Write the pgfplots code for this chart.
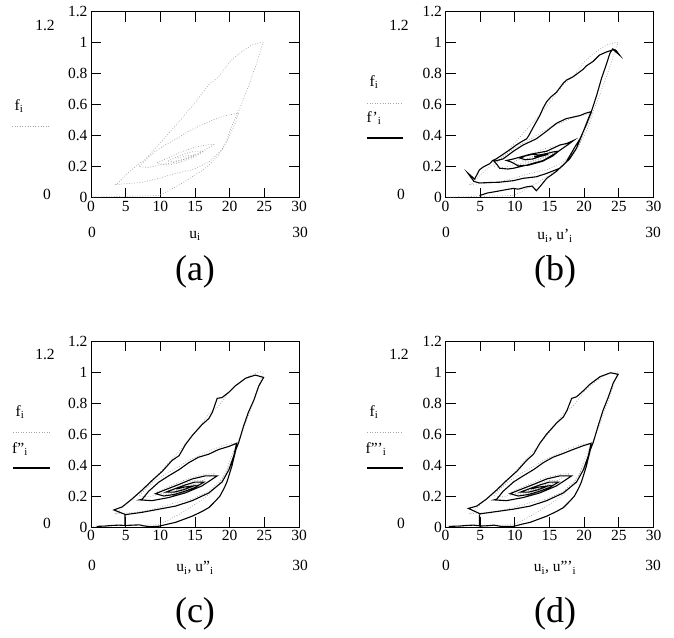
\documentclass[border=0pt]{standalone}
\usepackage{fontspec}
\setmainfont{Liberation Serif}
\usepackage{pgfplots}
\usepackage{pgfplotstable}
\pgfplotsset{compat=1.18}

% measured response f_i (dotted, same in all panels)
\pgfplotstableread{
u f
0.3 0.004
2 0.006
4 0.008
6 0.01
8 0.012
9.8 0.015
11 0.04
12.2 0.07
13.4 0.10
14.6 0.135
16 0.175
17 0.21
18.4 0.275
19.4 0.35
20.1 0.44
20.8 0.51
21.5 0.58
22.3 0.67
23.2 0.78
23.9 0.87
24.6 0.97
24.9 1.0
24.4 1.0
23.2 0.985
22 0.95
20.8 0.91
19.9 0.87
18.4 0.78
17 0.73
16 0.67
14.6 0.59
13.9 0.555
12.9 0.50
11.7 0.44
10.5 0.38
9.3 0.32
7.9 0.25
6.4 0.20
5 0.146
3.8 0.09
3.4 0.085
5 0.09
7.4 0.10
9.8 0.125
12.2 0.157
14.6 0.18
17 0.23
18.9 0.31
19.9 0.39
20.8 0.48
21.3 0.545
19.4 0.53
17.5 0.50
15.5 0.46
14.1 0.43
12.7 0.39
10.7 0.34
9.3 0.30
7.9 0.245
6.9 0.20
8.3 0.195
9.8 0.21
12.2 0.23
14.6 0.265
16.5 0.31
17.9 0.345
16.5 0.34
14.6 0.32
12.7 0.29
10.8 0.25
9.5 0.225
10.8 0.21
12.2 0.22
13.6 0.24
15 0.265
16.3 0.30
15 0.30
13.6 0.285
12.2 0.26
11 0.235
12.2 0.235
13.5 0.25
14.8 0.275
13.6 0.268
12.4 0.255
}\measured

% model (b)
\pgfplotstableread{
u f
4.9 0.013
6 0.03
7.3 0.04
8.5 0.05
9.8 0.06
10.5 0.055
11.7 0.07
12.5 0.075
13.1 0.045
13.6 0.07
14.6 0.125
16 0.17
17.4 0.23
18.7 0.33
19.4 0.38
20.3 0.47
21 0.55
21.8 0.66
22.5 0.77
23.2 0.86
23.7 0.93
24.1 0.96
24.6 0.95
25.1 0.92
24.2 0.955
23.2 0.94
22.2 0.92
21.3 0.88
20.3 0.85
19.9 0.83
19 0.80
18.4 0.78
17.5 0.76
17 0.74
16 0.68
15.2 0.65
14.6 0.62
14.1 0.58
13.6 0.53
13.1 0.49
12.6 0.45
12 0.40
11.7 0.38
10.9 0.36
10.2 0.34
9.3 0.31
8.3 0.28
7.3 0.25
6.8 0.24
6.4 0.22
5.5 0.20
4.9 0.18
4.2 0.12
3.2 0.16
4.1 0.105
4.9 0.095
6.4 0.098
7.8 0.10
9.8 0.11
11.2 0.125
13.1 0.135
14.6 0.157
16.5 0.19
17.9 0.25
18.9 0.32
19.9 0.43
21 0.555
20.2 0.545
19.4 0.53
18.4 0.52
17.4 0.51
16 0.48
14.6 0.43
13.1 0.38
11.2 0.34
9.8 0.30
8.3 0.25
7.0 0.235
7.5 0.21
7.8 0.19
9.0 0.185
9.8 0.19
11.7 0.21
14.1 0.24
16 0.29
17.9 0.35
18.5 0.37
17.5 0.35
16.5 0.34
14.6 0.30
12.2 0.28
9.8 0.25
8.8 0.24
9.5 0.23
10.5 0.205
12 0.21
14 0.235
15.5 0.27
16.3 0.30
15.5 0.295
14.6 0.285
13.5 0.275
12.6 0.28
11.5 0.27
10.8 0.255
11.5 0.245
12.6 0.25
13.6 0.265
14.8 0.28
13.8 0.27
12.8 0.265
}\modelb

% model (c)
\pgfplotstableread{
u f
0.8 0.004
2 0.006
3 0.01
4 0.012
4.9 0.01
4.9 0.08
4.9 0.01
6 0.012
7 0.014
7.5 0.008
8.5 0.002
9.8 0.005
11 0.018
12.2 0.03
13.4 0.05
14.6 0.07
16 0.10
17 0.125
18 0.17
18.6 0.20
19.2 0.25
19.6 0.29
20.3 0.39
20.9 0.50
21.3 0.545
22 0.65
22.7 0.74
23.5 0.82
24.2 0.91
24.9 0.965
23.7 0.98
22.3 0.96
20.8 0.91
19.9 0.87
18.9 0.835
18.2 0.83
17.5 0.74
17 0.70
16 0.66
14.6 0.59
13.6 0.53
12.7 0.46
11.7 0.43
10.3 0.36
8.8 0.30
7.4 0.24
5.9 0.18
4.5 0.13
3.3 0.11
5 0.08
7.4 0.095
9.8 0.115
12.2 0.135
14.6 0.17
17 0.22
18.9 0.29
19.9 0.37
20.6 0.46
21 0.54
19.9 0.52
18.4 0.50
17 0.47
15.5 0.45
14.1 0.415
12.7 0.37
11.2 0.33
9.8 0.29
8.3 0.23
7.4 0.18
7 0.175
8.8 0.17
11.2 0.19
13.6 0.22
16 0.265
18.2 0.33
16.5 0.33
14.6 0.31
12.7 0.275
10.7 0.24
9.3 0.215
10.5 0.20
12 0.21
13.5 0.23
15 0.255
16.3 0.29
15 0.29
13.5 0.27
12 0.245
10.8 0.225
12 0.225
13.3 0.24
14.8 0.265
13.5 0.258
12.3 0.245
}\modelc

% model (d)
\pgfplotstableread{
u f
0.5 0.004
2 0.006
3 0.01
4 0.012
4.9 0.008
4.9 0.08
4.9 0.006
6 0.008
7 0.012
8 0.004
9.8 0.004
11 0.018
12.2 0.03
13.4 0.05
14.6 0.07
16 0.10
17 0.125
18 0.17
18.6 0.20
19.2 0.25
19.6 0.29
20.3 0.39
20.9 0.50
21.3 0.545
22 0.65
22.7 0.75
23.5 0.84
24.2 0.93
24.9 0.985
23.8 0.995
22.3 0.97
20.8 0.92
19.9 0.88
18.9 0.84
18.2 0.83
17.5 0.75
17 0.71
16 0.67
14.6 0.60
13.6 0.54
12.7 0.47
11.7 0.43
10.3 0.36
8.8 0.30
7.4 0.24
5.9 0.18
4.5 0.135
3.3 0.12
5 0.085
7.4 0.10
9.8 0.115
12.2 0.135
14.6 0.17
17 0.22
18.9 0.29
19.9 0.37
20.6 0.46
21 0.54
19.9 0.525
18.4 0.50
17 0.475
15.5 0.45
14.1 0.415
12.7 0.37
11.2 0.33
9.8 0.29
8.3 0.23
7.4 0.18
7 0.175
8.8 0.17
11.2 0.19
13.6 0.22
16 0.265
18.2 0.33
16.5 0.33
14.6 0.31
12.7 0.275
10.7 0.24
9.3 0.215
10.5 0.20
12 0.21
13.5 0.23
15 0.255
16.3 0.29
15 0.29
13.5 0.27
12 0.245
10.8 0.225
12 0.225
13.3 0.24
14.8 0.265
13.5 0.258
12.3 0.245
}\modeld

\tikzset{
  meas/.style={gray!70, line width=0.7pt, dash pattern=on 0.8pt off 1.8pt},
  model/.style={black, line width=1.1pt},
}
\pgfplotsset{
  panel/.style={
    scale only axis, width=208pt, height=186pt, anchor=north west,
    xmin=0, xmax=30, ymin=0, ymax=1.2,
    xtick={0,5,10,15,20,25,30}, ytick={0,0.2,0.4,0.6,0.8,1,1.2},
    tick align=inside, major tick length=10pt, tick pos=both,
    xticklabel pos=lower, yticklabel pos=left,
    tick style={black, line width=1pt},
    axis line style={line width=1pt},
    ticklabel style={font=\fontsize{15.5}{17}\selectfont},
    /pgf/number format/assume math mode=true,
  },
}
\newcommand{\lblfont}{\fontsize{15.5}{17}\selectfont}
\newcommand{\capfont}{\fontsize{36}{40}\selectfont}

\begin{document}
\begin{tikzpicture}
\useasboundingbox (0pt,0pt) rectangle (674pt,-637pt);

% (a)
\begin{axis}[panel, at={(91pt,-11.7pt)}]
\addplot[meas] table[x=u,y=f] {\measured};
\end{axis}
\node[font=\lblfont] at (45pt,-25pt) {1.2};
\node[font=\lblfont] at (47pt,-194pt) {0};
\node[font=\lblfont] at (19pt,-106pt) {f\textsubscript{i}};
\draw[meas] (12pt,-126pt) -- (50pt,-126pt);
\node[font=\lblfont] at (92pt,-232pt) {0};
\node[font=\lblfont] at (195pt,-236pt) {u\textsubscript{i}};
\node[font=\lblfont] at (300pt,-232pt) {30};
\node[font=\capfont] at (195pt,-272pt) {(a)};

% (b)
\begin{axis}[panel, at={(445.5pt,-11.7pt)}]
\addplot[meas] table[x=u,y=f] {\measured};
\addplot[model] table[x=u,y=f] {\modelb};
\end{axis}
\node[font=\lblfont] at (399pt,-25pt) {1.2};
\node[font=\lblfont] at (401pt,-194pt) {0};
\node[font=\lblfont] at (374pt,-82pt) {f\textsubscript{i}};
\draw[meas] (367pt,-103pt) -- (403pt,-103pt);
\node[font=\lblfont] at (374pt,-118pt) {f'\textsubscript{i}};
\draw[model] (367pt,-138pt) -- (403pt,-138pt);
\node[font=\lblfont] at (446pt,-232pt) {0};
\node[font=\lblfont] at (555pt,-236pt) {u\textsubscript{i}, u'\textsubscript{i}};
\node[font=\lblfont] at (653pt,-232pt) {30};
\node[font=\capfont] at (555pt,-272pt) {(b)};

% (c)
\begin{axis}[panel, at={(91pt,-341pt)}]
\addplot[meas] table[x=u,y=f] {\measured};
\addplot[model] table[x=u,y=f] {\modelc};
\end{axis}
\node[font=\lblfont] at (45pt,-354pt) {1.2};
\node[font=\lblfont] at (47pt,-523pt) {0};
\node[font=\lblfont] at (20pt,-412pt) {f\textsubscript{i}};
\draw[meas] (13pt,-432pt) -- (50pt,-432pt);
\node[font=\lblfont] at (20pt,-449pt) {f''\textsubscript{i}};
\draw[model] (13pt,-468pt) -- (50pt,-468pt);
\node[font=\lblfont] at (92pt,-565pt) {0};
\node[font=\lblfont] at (195pt,-568pt) {u\textsubscript{i}, u''\textsubscript{i}};
\node[font=\lblfont] at (300pt,-565pt) {30};
\node[font=\capfont] at (195pt,-614pt) {(c)};

% (d)
\begin{axis}[panel, at={(445.5pt,-341pt)}]
\addplot[meas] table[x=u,y=f] {\measured};
\addplot[model] table[x=u,y=f] {\modeld};
\end{axis}
\node[font=\lblfont] at (399pt,-354pt) {1.2};
\node[font=\lblfont] at (401pt,-523pt) {0};
\node[font=\lblfont] at (374pt,-412pt) {f\textsubscript{i}};
\draw[meas] (367pt,-432pt) -- (403pt,-432pt);
\node[font=\lblfont] at (376pt,-449pt) {f'''\textsubscript{i}};
\draw[model] (367pt,-468pt) -- (403pt,-468pt);
\node[font=\lblfont] at (446pt,-565pt) {0};
\node[font=\lblfont] at (555pt,-568pt) {u\textsubscript{i}, u'''\textsubscript{i}};
\node[font=\lblfont] at (653pt,-565pt) {30};
\node[font=\capfont] at (555pt,-614pt) {(d)};
\end{tikzpicture}
\end{document}
